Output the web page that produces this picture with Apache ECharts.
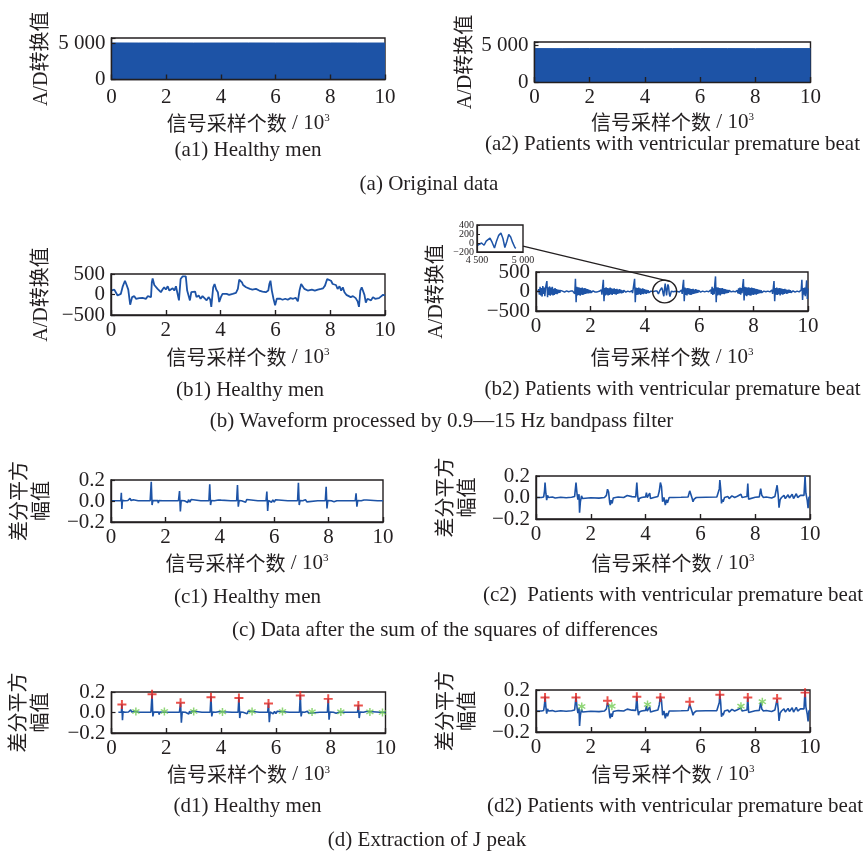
<!DOCTYPE html>
<html><head><meta charset="utf-8">
<script src="https://cdn.jsdelivr.net/npm/echarts@6/dist/echarts.min.js"></script>
<style>html,body{margin:0;padding:0;background:#fff}#c{width:868px;height:852px}</style>
</head><body><div id="c"></div>
<script>
// ---------------- DATA ----------------
const xTickValues = [0, 2, 4, 6, 8, 10];               // 10^3 samples
const aYLabels = {0: '0', 5000: '5 000'};
const insetXLabels = {4500: '4 500', 5000: '5 000'};

// (a) original data – upper envelope of the dense raw signal
const a1Orig = [[0,5090],[1,5080],[2,5085],[3,5075],[4,5080],[5,5085],[6,5080],[7,5075],[8,5085],[9,5080],[10,5080]];
const a2Orig = [[0,4550],[1,4545],[2,4555],[3,4550],[4,4545],[5,4550],[6,4555],[7,4550],[8,4545],[9,4550],[10,4550]];

// (b1) band-passed, healthy  [x (10^3 samples), A/D]
const b1Wave = [
[0.00,96],[0.06,56],[0.12,120],[0.18,136],[0.24,-24],[0.30,-64],[0.36,16],[0.43,200],[0.51,336],[0.57,232],
[0.63,120],[0.70,-248],[0.77,-64],[0.85,-40],[0.91,-104],[0.97,-64],[1.03,-88],[1.09,-72],[1.15,-80],[1.22,-96],
[1.28,-104],[1.34,-40],[1.40,-80],[1.46,-64],[1.49,296],[1.52,392],[1.58,232],[1.64,256],[1.70,136],[1.76,176],
[1.82,56],[1.88,120],[1.94,176],[2.00,120],[2.07,200],[2.13,96],[2.19,136],[2.25,152],[2.31,96],[2.37,200],
[2.43,232],[2.48,-144],[2.54,376],[2.61,440],[2.73,440],[2.78,96],[2.83,56],[2.88,-144],[2.93,56],[3.00,16],
[3.07,72],[3.12,-64],[3.20,-24],[3.27,-104],[3.34,-40],[3.41,-88],[3.49,-144],[3.56,-64],[3.62,-120],[3.66,-300],
[3.73,176],[3.78,256],[3.84,120],[3.90,56],[3.95,-184],[4.01,-64],[4.07,16],[4.14,-24],[4.22,16],[4.31,-8],
[4.44,16],[4.56,40],[4.63,136],[4.68,360],[4.73,376],[4.78,296],[4.82,232],[4.87,256],[4.93,176],[4.99,152],
[5.07,136],[5.16,120],[5.29,136],[5.41,96],[5.53,72],[5.65,56],[5.74,96],[5.78,256],[5.82,336],[5.87,96],
[5.93,-104],[5.99,-260],[6.05,-104],[6.11,-144],[6.18,-104],[6.26,-128],[6.36,-104],[6.45,-128],[6.55,-88],[6.65,-104],
[6.74,-80],[6.82,-168],[6.88,96],[6.94,256],[7.00,216],[7.06,136],[7.12,176],[7.18,96],[7.25,72],[7.33,120],
[7.44,96],[7.55,120],[7.66,136],[7.74,152],[7.81,216],[7.89,376],[7.96,416],[8.03,336],[8.09,256],[8.15,216],
[8.21,232],[8.27,136],[8.34,200],[8.40,96],[8.46,176],[8.52,56],[8.59,-8],[8.66,-24],[8.75,-64],[8.83,-40],
[8.93,-88],[9.00,-168],[9.05,-300],[9.10,96],[9.15,176],[9.20,152],[9.25,-8],[9.30,-200],[9.36,-104],[9.42,-64],
[9.49,-144],[9.56,-64],[9.64,-104],[9.71,-64],[9.78,-88],[9.85,-40],[9.93,-8],[10.00,-24]
];

// (b2) band-passed, patient: samples every 0.025 x 10^3
const b2Step = 0.025;
const b2Values = [
0,5,-5,0,60,-80,120,-100,90,-130,
140,-60,100,-120,80,180,267,-146,110,-90,
130,-110,100,-80,120,-100,70,-90,90,-60,
60,-70,50,-40,40,-30,30,-20,15,10,
-10,5,-15,10,0,15,-10,5,-5,10,
-15,10,5,-10,10,-5,20,-60,327,-275,
120,-100,110,-90,100,-110,90,-80,100,-90,
80,-70,90,-60,70,-50,60,-50,40,-40,
30,-30,20,-20,15,-10,10,-15,10,5,
-10,10,-10,5,0,-20,40,-80,120,301,
-250,90,-100,110,-80,90,-100,80,-90,100,
-70,80,-90,70,-60,80,-70,60,-80,70,
-60,50,-50,60,-40,40,-50,30,-30,30,
-20,20,-15,10,0,10,-10,5,-10,10,
-5,20,-40,80,200,327,-275,100,-90,90,
-80,100,-70,80,-90,70,-60,80,-70,60,
-50,50,-60,40,-40,30,-30,20,-15,10,
-10,10,-5,5,-10,10,0,-10,10,-30,
-60,-40,20,-30,60,100,40,-60,-120,60,
200,160,-100,60,180,120,-60,-130,-60,10,
-10,10,-5,10,-10,5,-10,10,0,-10,
10,-10,5,-20,40,-60,150,301,-250,100,
-90,80,-100,90,-70,80,-80,70,-90,60,
-70,70,-60,50,-50,60,-40,40,-30,30,
-20,20,-15,10,-10,10,-5,5,-10,10,
-5,10,-10,5,-5,10,-20,40,-60,120,
-90,80,-70,200,387,-275,110,-100,100,-80,
90,-100,80,-70,90,-60,70,-70,60,-50,
50,-40,40,-30,30,-20,15,-10,10,-10,
5,-5,10,-10,5,-20,30,-50,80,-60,
100,-80,90,-40,150,318,-232,120,-100,110,
-120,100,-90,110,-100,90,-110,100,-80,90,
-90,80,-70,70,-80,60,-60,50,-50,40,
-40,30,-30,20,-20,10,-10,10,-5,5,
-10,10,-5,10,-10,5,-20,40,-60,100,
267,-250,90,-80,100,-90,80,-70,90,-100,
80,-70,70,-80,60,-60,70,-50,50,-60,
40,-40,50,-30,30,-30,20,-20,15,-10,
10,-15,10,-5,10,-10,5,-10,10,-20,
40,301,-215,90,-80,100,-120,60,284,-190,
80
];

// inset of (b2): samples 4500–5000
const insetWave = [[4500,-60],[4525,-30],[4549,0],[4577,-50],[4600,40],[4613,53],[4641,110],[4665,13],[4690,-110],[4711,33],
[4736,170],[4760,220],[4782,100],[4803,-100],[4824,33],[4845,190],[4866,133],[4887,13],[4912,-100],[4922,-120]];
const zoomCircleCenter = [4.73, 0];   // b2 coords of the circled region
const insetAnchor = [5000, -70];      // inset coords where the leader line starts

// (c1) sum of squared differences, healthy
const c1Wave = [
[0,0.003],[0.25,0.002],[0.36,0.004],[0.38,0.079],[0.40,-0.076],[0.42,0.006],[0.5,0.002],[0.62,0.005],[0.66,-0.01],[0.70,0.025],
[0.74,0.004],[0.82,0.012],[0.86,0.002],[1.0,0.003],[1.2,0.002],[1.44,0.004],[1.48,0.184],[1.51,-0.038],[1.54,0.004],[1.6,0.002],
[1.72,0.004],[1.74,-0.02],[1.76,0.005],[1.9,0.002],[2.2,0.003],[2.48,0.004],[2.52,0.095],[2.55,-0.10],[2.58,0.005],[2.7,0.002],
[2.82,-0.015],[2.85,0.012],[2.9,-0.01],[2.95,0.015],[3.0,0.002],[3.3,0.003],[3.6,0.004],[3.63,0.16],[3.66,-0.038],[3.69,0.004],
[3.8,0.002],[3.95,0.01],[4.0,-0.008],[4.05,0.008],[4.1,0.002],[4.4,0.003],[4.62,0.004],[4.65,0.152],[4.68,-0.054],[4.71,0.004],
[4.8,0.002],[4.95,-0.012],[4.99,0.014],[5.03,0.002],[5.4,0.003],[5.7,0.004],[5.73,0.089],[5.76,-0.095],[5.79,0.005],[5.9,-0.012],
[5.95,0.01],[6.0,-0.01],[6.05,0.012],[6.1,0.002],[6.5,0.003],[6.86,0.004],[6.89,0.174],[6.92,-0.038],[6.95,0.004],[7.05,0.002],
[7.1,-0.01],[7.15,0.012],[7.2,-0.008],[7.25,0.002],[7.6,0.003],[7.88,0.004],[7.91,0.136],[7.94,-0.07],[7.97,0.004],[8.1,0.002],
[8.15,0.012],[8.2,-0.008],[8.25,0.01],[8.3,0.002],[8.7,0.003],[8.98,0.004],[9.01,0.073],[9.04,-0.054],[9.07,0.004],[9.2,0.002],
[9.3,0.01],[9.35,-0.008],[9.4,0.01],[9.45,0.002],[9.8,0.003],[10,0.002]
];

// (c2) sum of squared differences, patient
const c2Wave = [
[0,0.0],[0.2,0.0],[0.28,0.005],[0.31,0.06],[0.33,0.139],[0.36,0.04],[0.39,-0.025],[0.42,0.02],[0.46,0.0],[0.6,0.004],
[0.7,-0.004],[0.9,0.003],[1.1,-0.003],[1.3,0.002],[1.41,0.01],[1.46,0.139],[1.5,0.028],[1.53,-0.02],[1.57,0.03],[1.59,-0.142],
[1.62,-0.04],[1.66,0.015],[1.7,-0.01],[1.76,0.0],[2.0,-0.002],[2.3,-0.006],[2.5,0.0],[2.57,0.02],[2.61,0.077],[2.65,0.05],
[2.69,-0.05],[2.71,-0.07],[2.74,-0.025],[2.78,-0.055],[2.82,-0.004],[2.9,0.0],[3.0,0.004],[3.2,0.0],[3.33,0.018],[3.4,0.0],
[3.5,0.008],[3.64,0.006],[3.68,0.139],[3.71,0.02],[3.74,-0.04],[3.77,-0.01],[3.85,0.0],[4.0,0.006],[4.03,0.046],[4.06,0.0],
[4.12,0.005],[4.15,0.04],[4.18,-0.01],[4.3,0.0],[4.45,0.01],[4.5,0.06],[4.54,0.139],[4.58,0.1],[4.62,-0.04],[4.67,0.0],
[4.72,-0.07],[4.76,-0.02],[4.8,-0.05],[4.86,0.0],[5.0,0.0],[5.3,0.002],[5.55,0.005],[5.61,0.062],[5.64,0.05],[5.7,-0.01],
[5.73,-0.04],[5.77,-0.015],[5.85,0.0],[6.2,0.003],[6.6,0.004],[6.65,0.015],[6.69,0.08],[6.71,0.163],[6.74,0.08],[6.77,-0.055],
[6.8,-0.02],[6.83,-0.04],[6.88,0.0],[7.0,0.01],[7.05,-0.01],[7.15,0.015],[7.25,0.0],[7.35,0.012],[7.42,-0.005],[7.48,0.03],
[7.52,0.0],[7.6,0.004],[7.7,0.01],[7.73,0.129],[7.76,-0.015],[7.8,0.0],[8.0,0.002],[8.15,0.006],[8.2,0.083],[8.24,0.02],
[8.3,0.0],[8.4,0.005],[8.6,-0.004],[8.72,0.01],[8.8,0.114],[8.84,0.02],[8.87,-0.095],[8.91,-0.02],[8.96,0.0],[9.05,0.02],
[9.1,-0.01],[9.2,0.025],[9.25,-0.005],[9.35,0.03],[9.4,-0.01],[9.5,0.035],[9.55,0.0],[9.65,0.02],[9.72,0.005],[9.78,0.02],
[9.82,0.2],[9.85,0.04],[9.9,-0.03],[9.93,-0.10],[9.96,0.0],[10,0.01]
];

// (d) J-peak extraction
const d1Start = 0.25;
const d1JPeaks = [[0.38,0.079],[1.48,0.178],[2.52,0.095],[3.63,0.148],[4.65,0.142],[5.73,0.088],[6.89,0.165],[7.91,0.133],[9.01,0.068]];
const d1Others = [[0.89,0.01],[1.93,0.01],[3.00,0.01],[4.05,0.005],[5.13,0.01],[6.24,0.01],[7.32,0.006],[8.37,0.006],[9.43,0.006],[9.89,0.0]];
const d2JPeaks = [[0.33,0.129],[1.46,0.129],[2.61,0.098],[3.68,0.135],[4.54,0.129],[5.61,0.089],[6.71,0.154],[7.73,0.129],[8.80,0.12],[9.82,0.175]];
const d2Others = [[1.67,0.043],[2.77,0.046],[4.07,0.062],[7.48,0.046],[8.26,0.089]];

const captions = [
  ['(a1) Healthy men', 248, 150], ['(a2) Patients with ventricular premature beat', 672.5, 144],
  ['(a) Original data', 429, 184],
  ['(b1) Healthy men', 250, 390], ['(b2) Patients with ventricular premature beat', 672.5, 389],
  ['(b) Waveform processed by 0.9\u201415 Hz bandpass filter', 441.5, 421],
  ['(c1) Healthy men', 247.5, 597], ['(c2)  Patients with ventricular premature beat', 673, 595],
  ['(c) Data after the sum of the squares of differences', 445, 630],
  ['(d1) Healthy men', 247.5, 806], ['(d2) Patients with ventricular premature beat', 675, 806],
  ['(d) Extraction of J peak', 427, 840]
];

// ---------------- STYLE / LAYOUT ----------------
const SERIF = '"Liberation Serif", "Times New Roman", serif';
const CJK = '"Noto Sans CJK SC", sans-serif';
const MIX = '"Liberation Serif", "Noto Sans CJK SC", serif';
const INK = '#231f20';
const BLUE = '#1d53a6';

const gridBoxes = [
  [111.5, 38, 273.5, 41.5],  // a1
  [534.5, 42, 276, 40],      // a2
  [111, 274, 274, 41],       // b1
  [536, 272, 272, 39],       // b2
  [111, 480, 272, 42],       // c1
  [536, 476, 274, 43],       // c2
  [111.5, 692, 274, 41],     // d1
  [536, 690, 274, 42],       // d2
  [477, 225, 46, 27]         // inset
];
const xNameGap = [44, 40, 42.5, 46.5, 41, 44, 41.7, 42.3];
const xLabelMargin = [7, 5, 5, 5, 5, 5, 5, 5];
const yNameGap = [70, 68.6, 69.3, 99, 79.3, 78, 80.4, 78];

const sgn = v => (v < -1e-9 ? '\u2212' : '');
const fmtA = v => (aYLabels[v] !== undefined ? aYLabels[v] : '');
const fmtB = v => sgn(v) + Math.abs(v);
const fmtC = v => sgn(v) + Math.abs(v).toFixed(1);
// split each y-axis's labels over two overlaid axes so that no label is dropped as "overlapping"
const onlyEnds = f => (v, i) => (Math.abs(v) > 1e-9 ? f(v) : '');
const onlyZero = f => v => (Math.abs(v) <= 1e-9 ? f(v) : '');

const grids = gridBoxes.map(b => ({
  left: b[0], top: b[1], width: b[2], height: b[3], show: true,
  borderColor: INK, borderWidth: 1.4, backgroundColor: 'transparent', outerBoundsMode: 'none'
}));

const xName = '{c|信号采样个数}{l| / 10}{s|3}';
const xRich = {
  c: {fontFamily: CJK, fontSize: 20, color: INK},
  l: {fontFamily: SERIF, fontSize: 21, color: INK},
  s: {fontFamily: SERIF, fontSize: 11, color: INK, verticalAlign: 'top'}
};

const xAxes = [];
for (let i = 0; i < 8; i++) {
  xAxes.push({
    gridIndex: i, type: 'value', min: 0, max: 10, interval: 2, z: 5,
    axisLine: {show: true, onZero: false, lineStyle: {color: INK, width: 1.4}},
    axisTick: {show: true, inside: true, length: 5, lineStyle: {color: INK, width: 1.4}},
    axisLabel: {fontFamily: SERIF, fontSize: 21, color: INK, margin: xLabelMargin[i], hideOverlap: false,
      formatter: v => (xTickValues.indexOf(v) >= 0 ? String(v) : '')},
    splitLine: {show: false},
    name: xName, nameLocation: 'middle', nameGap: xNameGap[i],
    nameTextStyle: {verticalAlign: 'middle', rich: xRich}
  });
}
xAxes.push({
  gridIndex: 8, type: 'value', min: 4500, max: 5000, interval: 500, z: 5,
  axisLine: {show: true, onZero: false, lineStyle: {color: INK, width: 1.2}},
  axisTick: {show: false},
  axisLabel: {fontFamily: SERIF, fontSize: 10, color: INK, margin: 3, hideOverlap: false,
    formatter: v => insetXLabels[v] || ''},
  splitLine: {show: false}
});

const yName1 = 'A/D转换值';
const yName2 = '差分平方\n幅值';
const yCfg = [
  [0, 5780, 5000, fmtA, yName1], [0, 5450, 5000, fmtA, yName1],
  [-500, 500, 500, fmtB, yName1], [-500, 500, 500, fmtB, yName1],
  [-0.2, 0.2, 0.2, fmtC, yName2], [-0.2, 0.2, 0.2, fmtC, yName2],
  [-0.2, 0.2, 0.2, fmtC, yName2], [-0.2, 0.2, 0.2, fmtC, yName2]
];
const yLabelBase = {fontFamily: SERIF, fontSize: 21, color: INK, margin: 6, hideOverlap: false,
  showMinLabel: true, showMaxLabel: true};
const yAxes = yCfg.map((c, i) => ({
  gridIndex: i, type: 'value', position: 'left', min: c[0], max: c[1], interval: c[2], z: 5,
  axisLine: {show: true, onZero: false, lineStyle: {color: INK, width: 1.4}},
  axisTick: {show: true, inside: true, length: 4, lineStyle: {color: INK, width: 1.2}},
  axisLabel: Object.assign({}, yLabelBase, {formatter: i < 2 ? c[3] : onlyEnds(c[3])}),
  splitLine: {show: false},
  name: c[4], nameLocation: 'middle', nameGap: yNameGap[i], nameRotate: 90,
  nameTextStyle: {fontFamily: MIX, fontSize: 20, color: INK, verticalAlign: 'middle', lineHeight: 22}
}));
// inset y axis (index 8): labels 400 and 0
yAxes.push({
  gridIndex: 8, type: 'value', position: 'left', min: -200, max: 400, interval: 200, z: 5,
  axisLine: {show: true, onZero: false, lineStyle: {color: INK, width: 1.2}},
  axisTick: {show: true, inside: true, length: 3, lineStyle: {color: INK, width: 1}},
  axisLabel: {fontFamily: SERIF, fontSize: 10, color: INK, margin: 3, hideOverlap: false,
    showMinLabel: true, showMaxLabel: true, formatter: v => (v === 400 || v === 0 ? fmtB(v) : '')},
  splitLine: {show: false}
});
// overlay label-only axes: the "0" label of panels b–d, and 200 / −200 of the inset
for (let i = 2; i < 8; i++) {
  const c = yCfg[i];
  yAxes.push({
    gridIndex: i, type: 'value', position: 'left', min: c[0], max: c[1], interval: c[2], z: 5,
    axisLine: {show: false, onZero: false}, axisTick: {show: false}, splitLine: {show: false},
    axisLabel: Object.assign({}, yLabelBase, {formatter: onlyZero(c[3])})
  });
}
yAxes.push({
  gridIndex: 8, type: 'value', position: 'left', min: -200, max: 400, interval: 200, z: 5,
  axisLine: {show: false, onZero: false}, axisTick: {show: false}, splitLine: {show: false},
  axisLabel: {fontFamily: SERIF, fontSize: 10, color: INK, margin: 3, hideOverlap: false,
    showMinLabel: true, showMaxLabel: true, formatter: v => (v === 200 || v === -200 ? fmtB(v) : '')}
});

const lineS = (i, data, w) => ({
  type: 'line', xAxisIndex: i, yAxisIndex: i, data, showSymbol: false, symbol: 'none',
  lineStyle: {color: BLUE, width: w || 1.6}, silent: true, z: 2
});
const PLUS = 'path://M3.9,0H6.1V3.9H10V6.1H6.1V10H3.9V6.1H0V3.9H3.9Z';
const STAR = 'path://M4.2,0H5.8V3.6L8.3,1.8L9.3,3.1L6.6,5L9.3,6.9L8.3,8.2L5.8,6.4V10H4.2V6.4L1.7,8.2L0.7,6.9L3.4,5L0.7,3.1L1.7,1.8L4.2,3.6Z';
const scatterS = (i, data, sym, size, color) => ({
  type: 'scatter', xAxisIndex: i, yAxisIndex: i, data, symbol: sym, symbolSize: size,
  itemStyle: {color}, silent: true, z: 4
});

const series = [
  Object.assign(lineS(0, a1Orig, 1), {areaStyle: {color: BLUE, opacity: 1}}),
  Object.assign(lineS(1, a2Orig, 1), {areaStyle: {color: BLUE, opacity: 1}}),
  lineS(2, b1Wave, 1.8),
  lineS(3, b2Values.map((v, k) => [k * b2Step, v]), 1.5),
  lineS(4, c1Wave, 1.6),
  lineS(5, c2Wave, 1.6),
  lineS(6, c1Wave.filter(p => p[0] >= d1Start), 1.6),
  scatterS(6, d1Others, STAR, 8, '#74cc55'),
  scatterS(6, d1JPeaks, PLUS, 9, '#e5261e'),
  lineS(7, c2Wave, 1.6),
  scatterS(7, d2Others, STAR, 8, '#74cc55'),
  scatterS(7, d2JPeaks, PLUS, 9, '#e5261e'),
  lineS(8, insetWave, 1.5)
];

const chart = echarts.init(document.getElementById('c'), null, {renderer: 'canvas'});
chart.setOption({
  animation: false, backgroundColor: '#fff',
  grid: grids, xAxis: xAxes, yAxis: yAxes, series
});

// annotations: captions, circled region in (b2) and leader line to the inset
const cc = chart.convertToPixel({xAxisIndex: 3, yAxisIndex: 3}, zoomCircleCenter);
const ia = chart.convertToPixel({xAxisIndex: 8, yAxisIndex: 8}, insetAnchor);
const rx = 12, ry = 11.3;
const graphics = captions.map(c => ({
  type: 'text', x: c[1], y: c[2], silent: true,
  style: {text: c[0], font: '21px ' + SERIF, fill: INK, align: 'center', verticalAlign: 'middle'}
}));
graphics.push({
  type: 'circle', shape: {cx: 0, cy: 0, r: rx}, x: cc[0], y: cc[1], scaleY: ry / rx, silent: true, z: 10,
  style: {fill: 'none', stroke: INK, lineWidth: 1.4, strokeNoScale: true}
});
graphics.push({
  type: 'line', silent: true, z: 10,
  shape: {x1: ia[0], y1: ia[1], x2: cc[0] + rx * 0.5, y2: cc[1] - ry * 0.866},
  style: {stroke: INK, lineWidth: 1.3}
});
chart.setOption({graphic: graphics});
</script>
</body></html>
